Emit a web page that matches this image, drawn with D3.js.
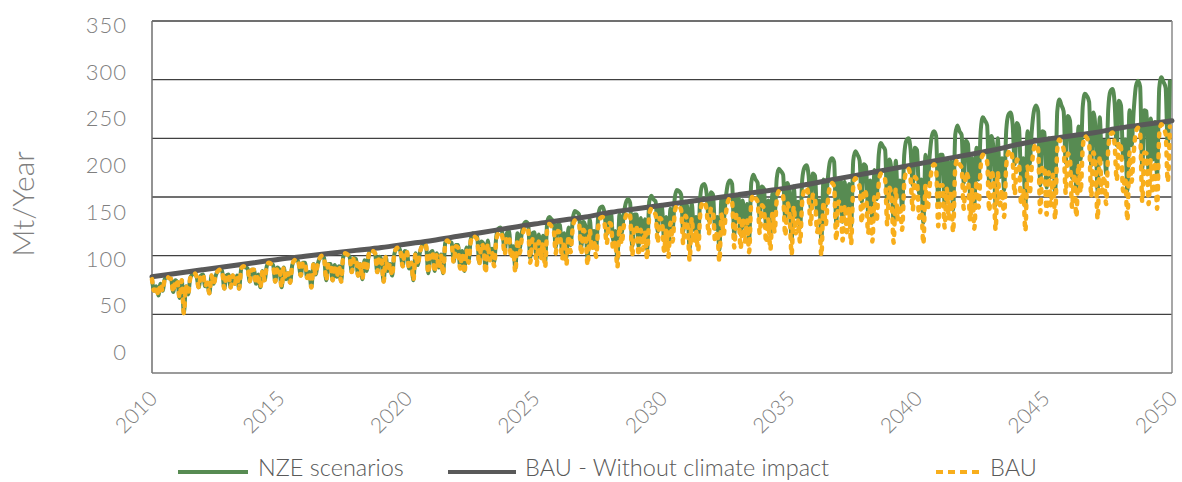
<!DOCTYPE html>
<html>
<head>
<meta charset="utf-8">
<script src="https://cdn.jsdelivr.net/npm/d3@7"></script>
<style>
  body{ margin:0; background:#fff; }
  svg{ display:block; font-family: Lato, "Open Sans", sans-serif; font-weight:300; }
</style>
</head>
<body>
<svg id="chart" width="1182" height="482"></svg>
<script>
  // tick labels
  const yTickLabels = [0, 50, 100, 150, 200, 250, 300, 350];
  const gridValues  = [50, 100, 150, 200, 250, 300];
  const xTickYears  = [2010, 2015, 2020, 2025, 2030, 2035, 2040, 2045, 2050];
  const seriesNames = ['NZE scenarios', 'BAU - Without climate impact', 'BAU'];

  // BAU - Without climate impact (one value per year)
  const trendYears = [2010,2011,2012,2013,2014,2015,2016,2017,2018,2019,2020,
    2021,2022,2023,2024,2025,2026,2027,2028,2029,2030,
    2031,2032,2033,2034,2035,2036,2037,2038,2039,2040,
    2041,2042,2043,2044,2045,2046,2047,2048,2049,2050];
  const trendValues = [82,85,88,91,94,97,99.5,102,104.5,107,110,
    113,116.5,120,123.5,127,130,133,137,140,143,
    146,149,152,155,158,162,166,170,174,178,
    182,186,190,195,199,202,205,209,212,215];

  // BAU, monthly, one row per year from 2010
  const bauMonthly = [
    [80,70,74,66,76,70,80,82,81,80,69,79],
    [77,64,79,51,74,67,81,84,85,82,73,83],
    [84,74,77,68,83,76,83,87,88,87,72,83],
    [84,73,83,76,83,72,89,91,90,89,78,88],
    [88,76,84,73,87,79,91,94,93,92,78,90],
    [88,73,90,80,85,77,92,96,97,94,83,94],
    [94,81,86,73,93,84,93,98,100,98,79,93],
    [93,79,92,82,91,78,99,102,101,99,86,98],
    [97,83,93,80,96,87,101,105,104,102,86,99],
    [96,78,99,87,93,83,101,106,107,103,91,104],
    [103,89,94,79,102,92,102,108,110,108,85,102],
    [103,86,101,89,100,84,110,113,111,110,94,108],
    [107,89,102,85,105,94,112,117,116,114,92,110],
    [107,85,110,96,103,91,113,119,120,115,101,116],
    [116,98,104,86,114,102,114,122,124,122,94,114],
    [114,92,112,97,111,90,123,127,125,123,102,121],
    [119,97,112,92,117,103,124,130,129,127,101,122],
    [117,92,122,105,113,99,125,132,133,127,110,128],
    [127,105,112,90,125,110,125,134,137,134,100,125],
    [125,100,122,105,121,97,135,140,137,135,111,132],
    [130,104,122,99,128,112,137,143,142,139,110,134],
    [127,96,132,111,121,104,136,145,146,139,118,140],
    [138,112,121,95,135,118,135,146,149,146,107,135],
    [135,106,132,112,130,103,146,152,149,146,119,143],
    [140,111,131,105,137,120,148,155,154,151,117,145],
    [136,101,142,119,130,111,147,156,158,150,126,152],
    [149,120,130,100,146,126,146,159,162,159,113,146],
    [146,113,143,120,141,110,159,166,163,159,128,156],
    [153,119,143,112,150,129,162,170,168,165,126,158],
    [150,111,157,131,143,122,162,172,174,165,139,167],
    [164,132,142,110,160,139,160,174,178,174,125,160],
    [160,124,157,131,155,120,175,182,178,175,140,171],
    [167,130,156,123,164,141,177,186,184,180,138,173],
    [163,122,171,143,156,133,177,188,190,181,152,182],
    [179,144,156,121,176,152,176,191,195,191,137,176],
    [175,135,171,143,169,131,191,199,195,191,153,187],
    [182,141,170,133,178,154,192,202,200,196,150,188],
    [176,131,185,154,168,144,191,203,205,195,164,197],
    [192,155,167,130,188,163,188,205,209,205,146,188],
    [187,144,182,153,180,140,204,212,208,204,163,210]
  ];

  // NZE scenarios, monthly, one row per year from 2010
  const nzeMonthly = [
    [80,70,74,66,76,70,80,82,81,80,69,79],
    [77,64,79,51,74,67,81,84,85,82,73,83],
    [84,74,77,68,83,76,83,87,88,87,72,83],
    [84,73,83,76,83,72,89,91,90,89,78,88],
    [88,76,84,73,87,79,91,94,93,92,78,90],
    [88,73,90,80,85,77,92,96,97,94,83,94],
    [94,81,86,73,93,84,93,98,100,98,79,93],
    [93,79,92,82,91,78,99,102,101,99,86,98],
    [97,83,93,80,96,87,101,105,104,102,86,99],
    [96,78,99,87,93,83,101,106,107,103,91,104],
    [103,89,94,79,102,92,102,108,110,108,85,102],
    [104,87,102,90,101,85,111,114,112,111,95,109],
    [109,91,104,87,107,96,114,119,118,116,94,112],
    [110,88,113,99,106,94,116,123,124,118,104,119],
    [121,102,108,89,119,106,119,127,129,127,98,119],
    [120,97,118,102,117,95,129,133,131,129,107,127],
    [126,103,119,98,124,109,131,138,137,135,107,129],
    [125,98,131,112,121,106,134,141,142,136,118,137],
    [137,113,121,97,135,119,135,145,148,145,108,135],
    [135,108,132,113,131,105,146,151,148,146,120,143],
    [142,113,133,108,140,122,149,156,155,152,120,146],
    [140,106,145,122,133,114,150,160,161,153,130,154],
    [152,123,133,105,149,130,149,161,164,161,118,149],
    [150,118,147,124,144,114,162,169,165,162,132,159],
    [157,124,147,118,153,134,166,174,172,169,131,162],
    [152,113,159,133,146,124,165,175,177,168,141,170],
    [168,136,147,113,165,142,165,180,183,180,128,165],
    [166,129,163,137,161,125,181,189,186,181,146,178],
    [176,137,164,129,173,148,186,196,193,190,145,182],
    [172,128,181,151,164,140,186,198,200,190,160,192],
    [190,153,165,128,186,161,186,202,206,202,145,186],
    [186,144,182,152,180,139,203,211,206,203,162,198],
    [195,152,183,144,192,165,207,218,215,211,161,202],
    [191,143,200,167,183,156,207,220,222,212,178,213],
    [209,168,183,142,206,178,206,223,228,223,160,206],
    [205,158,200,167,198,153,223,233,228,223,179,219],
    [215,166,201,157,210,182,227,238,236,231,177,222],
    [208,155,218,182,198,170,225,240,242,230,194,232],
    [228,184,199,155,224,194,224,244,249,244,174,224],
    [223,171,217,182,214,167,243,252,248,243,194,250]
  ];

  const startYear = 2010;
  const svg = d3.select('#chart');
  const plotLeft = 152, plotRight = 1172, plotTop = 21, plotBottom = 373;

  const x = d3.scaleLinear().domain([2010, 2050]).range([plotLeft, plotRight]);
  const y = d3.scaleLinear().domain([0, 300]).range([plotBottom, plotTop]);
  // the printed axis labels sit on their own spacing in the original
  const yLabel = d3.scaleLinear().domain([0, 350]).range([352.5, 25.5]);

  const toPoints = rows => rows.flatMap((row, i) =>
    row.map((v, m) => ({ t: startYear + i + m / 12, v })));

  const nzePts   = toPoints(nzeMonthly);
  const bauPts   = toPoints(bauMonthly);
  const trendPts = trendYears.map((t, i) => ({ t, v: trendValues[i] }));

  // grid
  svg.append('g')
    .selectAll('line')
    .data(gridValues)
    .enter()
    .append('line')
      .attr('x1', plotLeft).attr('x2', plotRight)
      .attr('y1', d => y(d)).attr('y2', d => y(d))
      .attr('stroke', '#404040')
      .attr('stroke-width', 1.3);

  // frame
  svg.append('line').attr('x1', plotLeft).attr('x2', plotLeft).attr('y1', y(300)).attr('y2', plotBottom)
    .attr('stroke', '#6f6f6f').attr('stroke-width', 1.5);
  svg.append('line').attr('x1', plotRight).attr('x2', plotRight).attr('y1', y(300)).attr('y2', plotBottom)
    .attr('stroke', '#8a8a8a').attr('stroke-width', 1.5);
  svg.append('line').attr('x1', plotLeft).attr('x2', plotRight).attr('y1', plotBottom).attr('y2', plotBottom)
    .attr('stroke', '#7a7a7a').attr('stroke-width', 1.5);

  // y labels
  const yAxis = svg.append('g')
    .attr('transform', `translate(${plotLeft},0)`)
    .call(d3.axisLeft(yLabel).tickValues(yTickLabels).tickSize(0).tickPadding(25));
  yAxis.select('.domain').remove();
  yAxis.selectAll('text')
    .attr('fill', '#7f7f7f')
    .style('font-size', '22px')
    .style('letter-spacing', '1px')
    .style('font-family', 'Lato, sans-serif')
    .style('font-weight', 300);

  // x labels
  const xAxis = svg.append('g')
    .attr('transform', `translate(0,${plotBottom})`)
    .call(d3.axisBottom(x).tickValues(xTickYears).tickFormat(d3.format('d')).tickSize(0));
  xAxis.select('.domain').remove();
  xAxis.selectAll('text')
    .attr('y', null).attr('dy', null)
    .attr('text-anchor', 'end')
    .attr('transform', 'translate(6,27) rotate(-45)')
    .attr('fill', '#7f7f7f')
    .style('font-size', '21px')
    .style('font-family', 'Lato, sans-serif')
    .style('font-weight', 300);

  // y title
  svg.append('text')
    .attr('transform', 'translate(34,204) rotate(-90)')
    .attr('text-anchor', 'middle')
    .attr('fill', '#7f7f7f')
    .style('font-size', '30px')
    .text('Mt/Year');

  const line = d3.line()
    .x(d => x(d.t))
    .y(d => y(d.v))
    .curve(d3.curveMonotoneX);

  svg.append('path')
    .datum(nzePts)
    .attr('d', line)
    .attr('fill', 'none')
    .attr('stroke', '#578b52')
    .attr('stroke-width', 4)
    .attr('stroke-linejoin', 'round');

  svg.append('path')
    .datum(trendPts)
    .attr('d', line)
    .attr('fill', 'none')
    .attr('stroke', '#595959')
    .attr('stroke-width', 5)
    .attr('stroke-linecap', 'round');

  svg.append('path')
    .datum(bauPts)
    .attr('d', line)
    .attr('fill', 'none')
    .attr('stroke', '#f8ae1c')
    .attr('stroke-width', 4.5)
    .attr('stroke-linecap', 'round')
    .attr('stroke-dasharray', '3,7.5');

  // legend
  const legendY = 472;
  const legendItems = [
    { x1: 178, x2: 248, tx: 258, color: '#578b52', w: 4, dash: null },
    { x1: 448, x2: 516, tx: 525, color: '#595959', w: 4, dash: null },
    { x1: 936, x2: 984, tx: 990, color: '#f8ae1c', w: 4, dash: '7,5' }
  ];
  const lg = svg.append('g')
    .selectAll('g')
    .data(legendItems)
    .enter()
    .append('g');
  lg.append('line')
    .attr('x1', d => d.x1).attr('x2', d => d.x2)
    .attr('y1', legendY).attr('y2', legendY)
    .attr('stroke', d => d.color)
    .attr('stroke-width', d => d.w)
    .attr('stroke-dasharray', d => d.dash);
  lg.append('text')
    .attr('x', d => d.tx)
    .attr('y', 476)
    .attr('fill', '#595959')
    .style('font-size', '23.5px')
    .text((d, i) => seriesNames[i]);
</script>
</body>
</html>
